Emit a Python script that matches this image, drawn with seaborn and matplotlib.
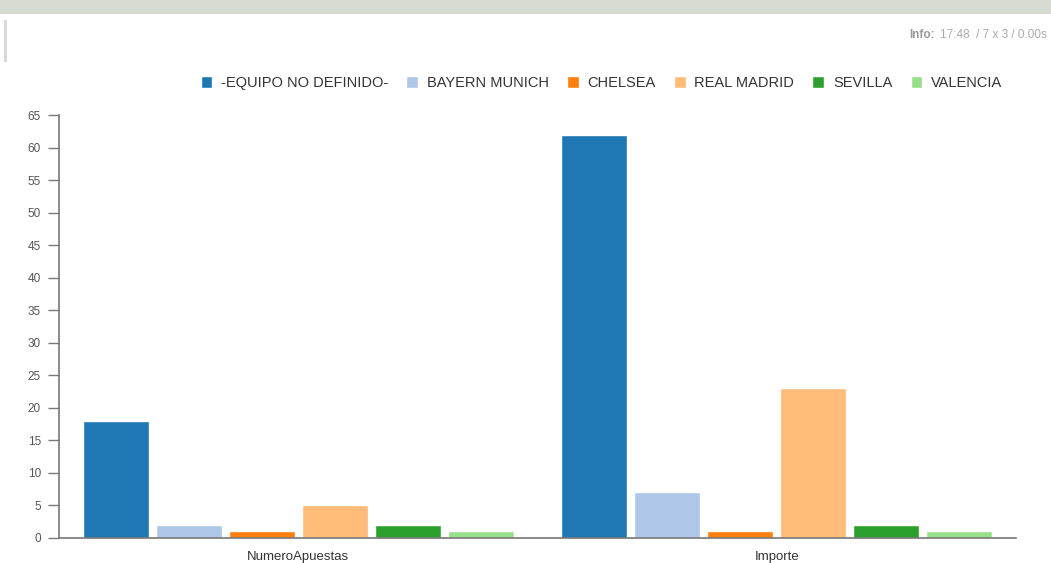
import matplotlib
matplotlib.use("Agg")
import matplotlib.pyplot as plt
import seaborn as sns
import pandas as pd
from matplotlib.patches import Rectangle

categories = ["NumeroApuestas", "Importe"]
teams = ["-EQUIPO NO DEFINIDO-", "BAYERN MUNICH", "CHELSEA", "REAL MADRID", "SEVILLA", "VALENCIA"]
numero_apuestas = [18, 2, 1, 5, 2, 1]
importe = [62, 7, 1, 23, 2, 1]
colors = ["#1f77b4", "#aec7e8", "#ff7f0e", "#ffbb78", "#2ca02c", "#98df8a"]
yticks = list(range(0, 70, 5))

rows = []
for t, v in zip(teams, numero_apuestas):
    rows.append({"cat": categories[0], "team": t, "value": v})
for t, v in zip(teams, importe):
    rows.append({"cat": categories[1], "team": t, "value": v})
df = pd.DataFrame(rows)

sns.set_style("white")
plt.rcParams["font.family"] = ["Liberation Sans", "DejaVu Sans"]

fig = plt.figure(figsize=(10.51, 5.63), dpi=100)
ax = fig.add_axes([59/1051, 25/563, (1016-59)/1051, (538-115)/563])

sns.barplot(data=df, x="cat", y="value", hue="team", order=categories,
            hue_order=teams, palette=colors, width=0.915, gap=0.095,
            saturation=1, ax=ax, legend=True)

ax.set_ylim(0, 65)
ax.set_xlim(-0.5, 1.5)
ax.set_yticks(yticks)
ax.set_yticklabels([str(v) for v in yticks], fontsize=8.5, color="#555555")
ax.tick_params(axis="y", which="both", left=True, length=8, width=1, color="#777777", pad=5)
ax.tick_params(axis="x", bottom=False, labelsize=9.5, labelcolor="#333333", pad=6)
ax.set_xlabel("")
ax.set_ylabel("")
for s in ["top", "right"]:
    ax.spines[s].set_visible(False)
for s in ["left", "bottom"]:
    ax.spines[s].set_color("#777777")
    ax.spines[s].set_linewidth(1.2)

handles, labels = ax.get_legend_handles_labels()
ax.legend_.remove()
leg = fig.legend(handles, labels, loc="center right", bbox_to_anchor=(1008/1051, 1 - 83/563),
                 ncol=6, frameon=False, fontsize=10.5, handlelength=0.8, handleheight=0.8,
                 handletextpad=0.6, columnspacing=1.25, borderaxespad=0)
for txt in leg.get_texts():
    txt.set_color("#333333")

# Header decorations
fig.patches.append(Rectangle((0, 1 - 14/563), 1, 14/563, transform=fig.transFigure,
                             facecolor="#d6dcd2", edgecolor="none", zorder=0))
fig.patches.append(Rectangle((4/1051, 1 - 62/563), 3/1051, 42/563, transform=fig.transFigure,
                             facecolor="#d8d8d8", edgecolor="none", zorder=0))
fig.text(1047/1051, 1 - 35/563, "17:48  / 7 x 3 / 0.00s", ha="right", va="center",
         fontsize=8.5, color="#aaaaaa")
fig.text(935/1051, 1 - 35/563, "Info:", ha="right", va="center", fontsize=8.5,
         color="#999999", fontweight="bold")

fig.savefig("out.png", dpi=100)
